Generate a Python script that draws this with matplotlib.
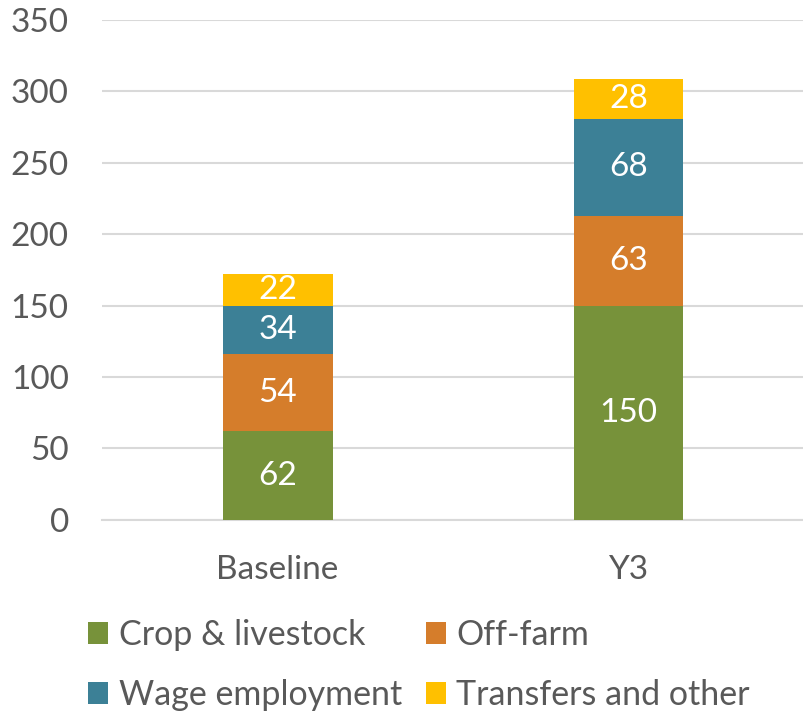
import matplotlib
matplotlib.use('Agg')
import matplotlib.pyplot as plt

categories = ['Baseline', 'Y3']
crop_livestock = [62, 150]
off_farm = [54, 63]
wage_employment = [34, 68]
transfers_other = [22, 28]

series = [
    ('Crop & livestock', crop_livestock, '#77923A'),
    ('Off-farm', off_farm, '#D57D2B'),
    ('Wage employment', wage_employment, '#3C8096'),
    ('Transfers and other', transfers_other, '#FFC000'),
]

plt.rcParams['font.family'] = ['Lato', 'DejaVu Sans']
text_color = '#595959'
fs = 24

fig = plt.figure(figsize=(8.04, 7.15), dpi=100)
ax = fig.add_axes([0.127, 0.273, 0.873, 0.699])

x = range(len(categories))
bottoms = [0] * len(categories)
handles = {}
for name, vals, color in series:
    bars = ax.bar(x, vals, bottom=bottoms, width=0.313, color=color, label=name, zorder=3)
    handles[name] = bars
    for b, v in zip(bars, vals):
        ax.text(b.get_x() + b.get_width() / 2, b.get_y() + b.get_height() / 2, str(v),
                ha='center', va='center', color='white', fontsize=fs, zorder=4)
    bottoms = [b + v for b, v in zip(bottoms, vals)]

ax.set_xlim(-0.5, 1.5)
ax.set_ylim(0, 350)
ax.set_yticks(range(0, 351, 50))
ax.set_xticks(list(x))
ax.set_xticklabels(categories)
ax.yaxis.grid(True, color='#D9D9D9', linewidth=1.5, zorder=0)
for s in ['top', 'right', 'left']:
    ax.spines[s].set_visible(False)
ax.spines['bottom'].set_color('#D9D9D9')
ax.spines['bottom'].set_linewidth(1.5)
ax.tick_params(axis='both', length=0, labelsize=fs, colors=text_color)
ax.tick_params(axis='y', pad=24)
ax.tick_params(axis='x', pad=25)

# legend: two rows, filled column-wise so reorder handles
order = ['Crop & livestock', 'Wage employment', 'Off-farm', 'Transfers and other']
leg = fig.legend([handles[n] for n in order], order, ncol=2, loc='upper left',
                 bbox_to_anchor=(88 / 804, 1 - 619 / 715), frameon=False, fontsize=24.5,
                 borderpad=0, borderaxespad=0,
                 handlelength=0.6, handleheight=0.6, handletextpad=0.3,
                 columnspacing=0.7, labelspacing=0.82)
for t in leg.get_texts():
    t.set_color(text_color)

fig.savefig('out.png', dpi=100)
